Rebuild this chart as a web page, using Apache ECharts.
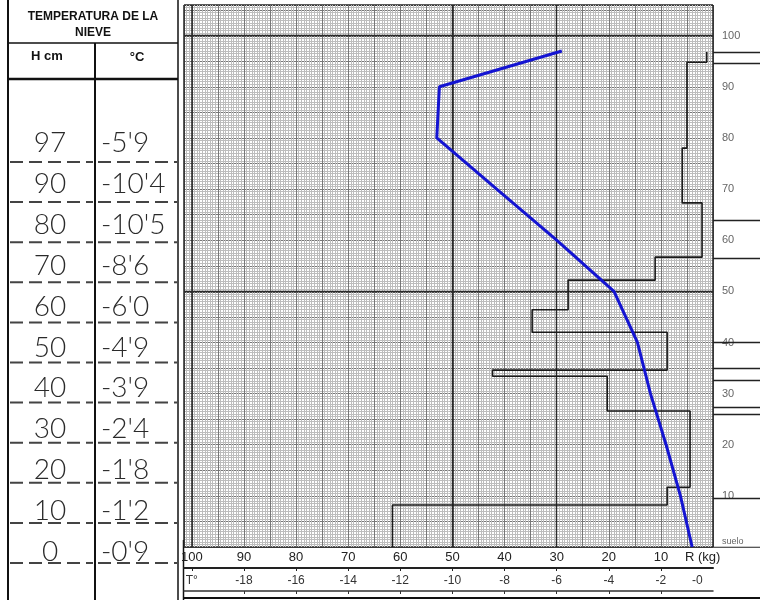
<!DOCTYPE html>
<html>
<head>
<meta charset="utf-8">
<script src="https://cdn.jsdelivr.net/npm/echarts@6/dist/echarts.min.js"></script>
<style>html,body{margin:0;padding:0;background:#fff}#c{width:760px;height:600px}</style>
</head>
<body>
<div id="c"></div>
<script>
// ---- data ----
const heights = [97, 90, 80, 70, 60, 50, 40, 30, 20, 10, 0];
const tableHeightText = ['97', '90', '80', '70', '60', '50', '40', '30', '20', '10', '0'];
const tableTempText = ["-5'9", "-10'4", "-10'5", "-8'6", "-6'0", "-4'9", "-3'9", "-2'4", "-1'8", "-1'2", "-0'9"];
// temperature as plotted (blue line), °C
const plottedTemps = [-5.8, -10.5, -10.6, -8.3, -6.0, -3.8, -2.9, -2.4, -1.8, -1.25, -0.8];
// ram resistance profile: layer top height (cm) and resistance (kg)
const layerTop = [96.8, 94.8, 78.0, 67.3, 56.7, 52.2, 46.4, 42.0, 34.6, 33.4, 26.6, 11.7, 8.2];
const layerRam = [1.2, 5.0, 5.9, 2.1, 11.1, 27.8, 34.7, 8.8, 42.3, 20.3, 4.4, 8.8, 61.5];
// layer boundary marks at the right margin (cm)
const layerBoundaries = [96.8, 94.7, 64.0, 56.5, 40.0, 35.0, 32.7, 27.4, 26.0, 9.6, 0];
// tick labels
const heightTicks = [0, 10, 20, 30, 40, 50, 60, 70, 80, 90, 100];
const ramTicks = [100, 90, 80, 70, 60, 50, 40, 30, 20, 10];
const tempTicks = [-18, -16, -14, -12, -10, -8, -6, -4, -2];
const tableTitle = ['TEMPERATURA DE LA', 'NIEVE'];
const tableHead = ['H cm', '°C'];

// ---- build series data ----
const profile = [];
layerTop.forEach((top, i) => {
  const bottom = i + 1 < layerTop.length ? layerTop[i + 1] : 0;
  profile.push([layerRam[i], top]);
  profile.push([layerRam[i], bottom]);
});
const tempLine = heights.map((h, i) => [plottedTemps[i], h]);
const boundaryLines = layerBoundaries.map(h => ({ coords: [[0, h], [1, h]] }));

// ---- table graphics ----
const graphics = [];
const hand = { fontFamily: "Lato, 'Open Sans', sans-serif", fontWeight: 300, fontSize: 28, fill: '#2a2a2a' };
function vline(x, y1, y2, w) { graphics.push({ type: 'line', shape: { x1: x, y1: y1, x2: x, y2: y2 }, style: { stroke: '#111', lineWidth: w } }); }
function hline(y, x1, x2, w, dash) { graphics.push({ type: 'line', shape: { x1: x1, y1: y, x2: x2, y2: y }, style: { stroke: dash ? '#444' : '#111', lineWidth: w, lineDash: dash || null } }); }
vline(8, 0, 600, 2);
vline(95, 43, 600, 2);
vline(178, 0, 600, 1.5);
hline(43, 8, 178, 1.5);
hline(79, 8, 178, 2.5);
graphics.push({ type: 'text', style: { text: tableTitle[0], x: 93, y: 17, align: 'center', verticalAlign: 'middle', font: 'bold 12px "Liberation Sans", Arial, sans-serif', fill: '#111' } });
graphics.push({ type: 'text', style: { text: tableTitle[1], x: 93, y: 33, align: 'center', verticalAlign: 'middle', font: 'bold 12px "Liberation Sans", Arial, sans-serif', fill: '#111' } });
graphics.push({ type: 'text', style: { text: tableHead[0], x: 47, y: 56, align: 'center', verticalAlign: 'middle', font: 'bold 13px "Liberation Sans", Arial, sans-serif', fill: '#111' } });
graphics.push({ type: 'text', style: { text: tableHead[1], x: 137, y: 57, align: 'center', verticalAlign: 'middle', font: 'bold 13px "Liberation Sans", Arial, sans-serif', fill: '#111' } });
tableHeightText.forEach((t, i) => {
  const ty = 143 + 40.9 * i;
  const ly = 162 + 40.1 * i;
  graphics.push({ type: 'text', style: Object.assign({ text: t, x: 50, y: ty, align: 'center', verticalAlign: 'middle' }, hand) });
  graphics.push({ type: 'text', style: Object.assign({ text: tableTempText[i], x: 101, y: ty, align: 'left', verticalAlign: 'middle' }, hand) });
  hline(ly, 10, 93, 2, [13, 6]);
  hline(ly, 98, 177, 2, [13, 6]);
});
// frame of the chart sheet
vline(183.5, 540, 600, 1.5);
hline(598, 183, 760, 2);

// ---- chart ----
const chart = echarts.init(document.getElementById('c'), null, { renderer: 'canvas' });
const hidden = { axisLine: { show: false }, axisTick: { show: false }, axisLabel: { show: false } };
chart.setOption({
  animation: false,
  backgroundColor: '#fff',
  graphic: graphics,
  grid: [
    { left: 184, right: 47, top: 5, bottom: 53, show: false },
    { left: 713, right: 0, top: 5, bottom: 53, show: false }
  ],
  xAxis: [
    Object.assign({ gridIndex: 0, type: 'value', min: 0, max: 101.5, inverse: true, interval: 5,
      splitLine: { show: true, lineStyle: { color: '#777', width: 1 } },
      minorTick: { show: false, splitNumber: 10 },
      minorSplitLine: { show: true, lineStyle: { color: '#bdbdbd', width: 1 } } }, hidden),
    Object.assign({ gridIndex: 0, type: 'value', min: 0, max: 101.5, inverse: true, interval: 50,
      splitLine: { show: true, lineStyle: { color: '#222', width: 1.5 } } }, hidden),
    { gridIndex: 0, type: 'value', min: 0, max: 101.5, inverse: true, position: 'bottom', offset: 21,
      axisLine: { show: true, onZero: false, lineStyle: { color: '#222', width: 2 } },
      axisTick: { show: true, customValues: ramTicks, length: 3, lineStyle: { color: '#222' } },
      axisLabel: { inside: true, margin: 4, customValues: ramTicks.concat([2]), color: '#222', fontSize: 13,
        fontFamily: '"Liberation Sans", Arial, sans-serif',
        formatter: v => (v === 2 ? 'R (kg)' : String(v)) },
      splitLine: { show: false } },
    { gridIndex: 0, type: 'value', min: -20.3, max: 0, position: 'bottom', offset: 44,
      axisLine: { show: true, onZero: false, lineStyle: { color: '#333', width: 1.5 } },
      axisTick: { show: true, customValues: tempTicks, length: 3, lineStyle: { color: '#333' } },
      axisLabel: { inside: true, margin: 4, customValues: [-20].concat(tempTicks, [-0.6]), color: '#333', fontSize: 12,
        fontFamily: '"Liberation Sans", Arial, sans-serif',
        formatter: v => (v === -20 ? 'T°' : v === -0.6 ? '-0' : String(v)) },
      splitLine: { show: false } },
    Object.assign({ gridIndex: 1, type: 'value', min: 0, max: 1, splitLine: { show: false } }, hidden)
  ],
  yAxis: [
    Object.assign({ gridIndex: 0, type: 'value', min: 0, max: 106, interval: 5,
      splitLine: { show: true, lineStyle: { color: '#777', width: 1 } },
      minorTick: { show: false, splitNumber: 10 },
      minorSplitLine: { show: true, lineStyle: { color: '#bdbdbd', width: 1 } } }, hidden),
    Object.assign({ gridIndex: 0, type: 'value', min: 0, max: 106, interval: 50,
      splitLine: { show: true, lineStyle: { color: '#222', width: 1.5 } } }, hidden),
    { gridIndex: 0, type: 'value', min: 0, max: 106, position: 'right',
      axisLine: { show: false }, axisTick: { show: false }, splitLine: { show: false },
      axisLabel: { show: true, margin: 9, customValues: heightTicks, color: '#666', fontSize: 11,
        fontFamily: '"Liberation Sans", Arial, sans-serif',
        formatter: v => (v === 0 ? '{s|suelo}' : String(v)),
        rich: { s: { fontSize: 9, color: '#666', padding: [0, 0, 10, 0] } } } },
    Object.assign({ gridIndex: 1, type: 'value', min: 0, max: 106, splitLine: { show: false } }, hidden)
  ],
  series: [
    { name: 'Resistencia', type: 'line', xAxisIndex: 2, yAxisIndex: 2, data: profile, symbol: 'none',
      lineStyle: { color: '#1a1a1a', width: 1.6 }, silent: true, z: 3,
      markLine: { silent: true, symbol: 'none', label: { show: false }, z: 1,
        lineStyle: { color: '#2a2a2a', width: 1.4, type: 'solid' },
        data: [{ xAxis: 30 }, { xAxis: 50 }, { yAxis: 50 }, { yAxis: 100 }] } },
    { name: 'Temperatura', type: 'line', xAxisIndex: 3, yAxisIndex: 2, data: tempLine, symbol: 'none',
      lineStyle: { color: '#1414d2', width: 3 }, silent: true, z: 4 },
    { name: 'Estratos', type: 'lines', coordinateSystem: 'cartesian2d', xAxisIndex: 4, yAxisIndex: 3,
      data: boundaryLines, lineStyle: { color: '#222', width: 1.3, opacity: 1 }, silent: true }
  ]
});
</script>
</body>
</html>
